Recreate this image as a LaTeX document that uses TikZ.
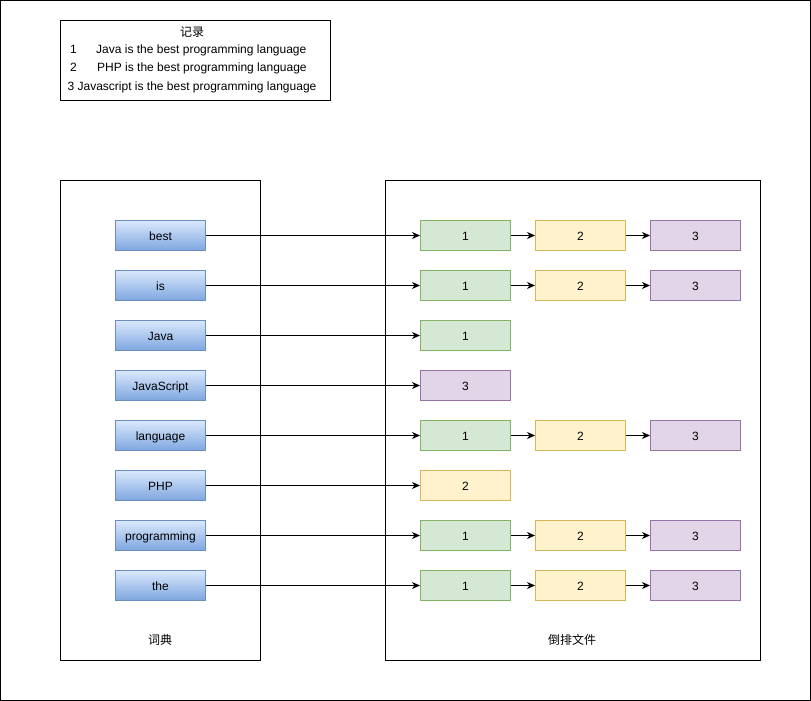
\documentclass[tikz,border=0pt]{standalone}
\usepackage{fontspec}
\setmainfont{Liberation Sans}
\newfontfamily\cjk{Noto Sans CJK SC}
\usetikzlibrary{arrows.meta}
\definecolor{blueA}{HTML}{DAE8FC}
\definecolor{blueB}{HTML}{7EA6E0}
\definecolor{blueL}{HTML}{6C8EBF}
\definecolor{greenF}{HTML}{D5E8D4}
\definecolor{greenL}{HTML}{82B366}
\definecolor{yellowF}{HTML}{FFF2CC}
\definecolor{yellowL}{HTML}{D6B656}
\definecolor{purpleF}{HTML}{E1D5E7}
\definecolor{purpleL}{HTML}{9673A6}
\tikzset{
  txt/.style={font=\fontsize{12}{14}\selectfont, inner sep=0pt},
  frame/.style={draw=black, line width=1pt},
  boxtxt/.style={txt, text height=9pt, text depth=0pt},
  term/.style={boxtxt, rectangle, minimum width=90pt, minimum height=30pt,
    top color=blueA, bottom color=blueB, draw=blueL, line width=1pt},
  post/.style={boxtxt, rectangle, minimum width=90pt, minimum height=30pt, line width=1pt},
  p1/.style={post, fill=greenF, draw=greenL},
  p2/.style={post, fill=yellowF, draw=yellowL},
  p3/.style={post, fill=purpleF, draw=purpleL},
  link/.style={line width=1pt, -{Stealth[length=8pt,width=7pt,inset=2.5pt]}}
}
\begin{document}
\begin{tikzpicture}[x=1pt, y=-1pt]
\useasboundingbox (0,0) rectangle (811,701);
% outer frame
\draw[frame] (0.5,0.5) rectangle (810.5,700.5);

% record list
\draw[frame] (60.5,20.5) rectangle (330.5,100.5);
\node[txt] (rtitle) at (192,32) {\cjk 记录};
\node[txt, anchor=base west] (r1n) at (70,53.5) {1};
\node[txt, anchor=base west] (r1) at (96,53.5) {Java is the best programming language};
\node[txt, anchor=base west] (r2n) at (70,71.5) {2};
\node[txt, anchor=base west] (r2) at (97,71.5) {PHP is the best programming language};
\node[txt, anchor=base] (r3) at (192,90.5) {3 Javascript is the best programming language};

% dictionary and postings containers
\draw[frame] (60.5,180.5) rectangle (260.5,660.5);
\node[txt] (dictlabel) at (160,640) {\cjk 词典};
\draw[frame] (385.5,180.5) rectangle (760.5,660.5);
\node[txt] (invlabel) at (572,640) {\cjk 倒排文件};

% terms
\foreach \name/\label/\y in {best/best/235, is/is/285, java/Java/335, js/JavaScript/385,
    lang/language/435, php/PHP/485, prog/programming/535, the/the/585}
  \node[term] (\name) at (160.5,\y.5) {\label};

% full posting lists 1 -> 2 -> 3
\foreach \name/\y in {best/235, is/285, lang/435, prog/535, the/585} {
  \node[p1] (\name a) at (465.5,\y.5) {1};
  \node[p2] (\name b) at (580.5,\y.5) {2};
  \node[p3] (\name c) at (695.5,\y.5) {3};
  \draw[link] (\name) -- (\name a);
  \draw[link] (\name a) -- (\name b);
  \draw[link] (\name b) -- (\name c);
}

% single-entry posting lists
\node[p1] (javaa) at (465.5,335.5) {1};
\draw[link] (java) -- (javaa);
\node[p3] (jsa) at (465.5,385.5) {3};
\draw[link] (js) -- (jsa);
\node[p2] (phpa) at (465.5,485.5) {2};
\draw[link] (php) -- (phpa);
\end{tikzpicture}
\end{document}
